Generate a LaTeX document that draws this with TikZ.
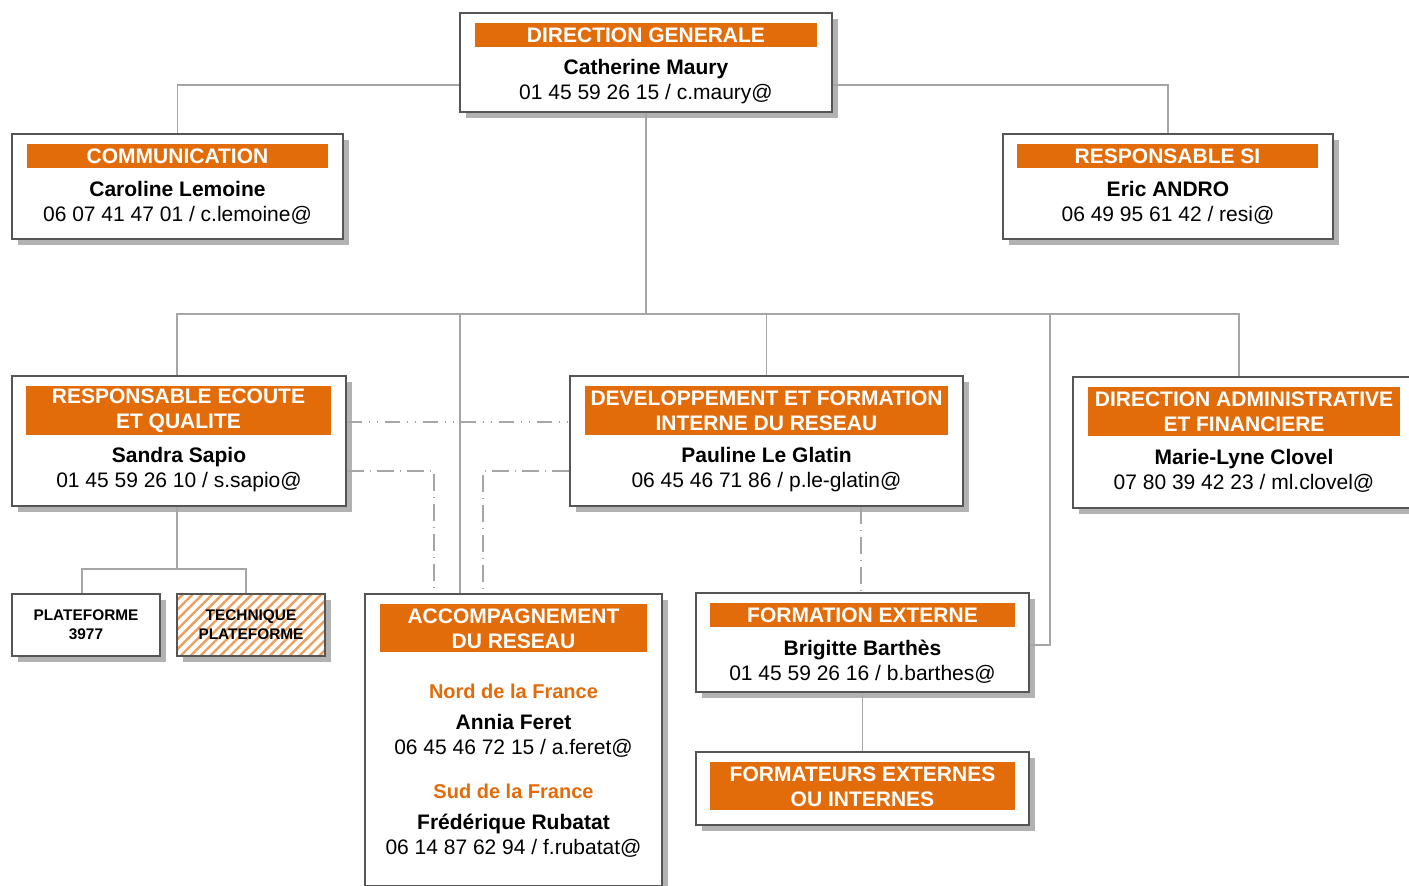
\documentclass[tikz,border=0pt]{standalone}
\usepackage{fontspec}
\setmainfont{Liberation Sans}
\usetikzlibrary{shadows,patterns.meta}

\definecolor{orgorange}{RGB}{227,108,10}
\definecolor{linegray}{RGB}{166,166,166}
\definecolor{boxgray}{RGB}{85,85,85}

\tikzstyle{box} = [draw=boxgray, line width=0.6pt, fill=white, inner sep=0pt,
    general shadow={fill=black!30, shadow xshift=3pt, shadow yshift=-3pt}]
\tikzstyle{smallbox} = [box, minimum width=74pt, minimum height=31pt, align=center,
    font=\fontsize{7.7}{9.5}\selectfont\bfseries]
\tikzstyle{head} = [fill=orgorange, text=white, font=\fontsize{10.5}{12.5}\selectfont\bfseries,
    inner sep=0pt, align=center]
\tikzstyle{info} = [align=center, inner sep=0pt]
\tikzstyle{region} = [text=orgorange, font=\bfseries, inner sep=0pt]
\tikzstyle{link} = [draw=linegray, line width=0.65pt]
\tikzstyle{dotlink} = [link, dash pattern=on 7.5pt off 3.5pt on 0.5pt off 3.5pt on 0.5pt off 3.5pt]
\tikzstyle{dashlink} = [link, dash pattern=on 8.5pt off 3pt on 0.5pt off 3pt]

\begin{document}
\begin{tikzpicture}[x=0.5pt, y=-0.5pt, font=\fontsize{10.5}{12.5}\selectfont]
\clip (0,0) rectangle (1409,886);

% direction generale
\node[box, minimum width=186pt, minimum height=49.5pt] (dg) at (646,62.5) {};
\node[head, minimum width=171pt, minimum height=12pt] (dgh) at (646,35.5) {DIRECTION GENERALE};
\node[info] (dgt) at (646,81.5) {\textbf{Catherine Maury}\\01 45 59 26 15 / c.maury@};

% communication
\node[box, minimum width=165.5pt, minimum height=52.5pt] (com) at (177.5,186.5) {};
\node[head, minimum width=150.5pt, minimum height=12pt] (comh) at (177.5,156.5) {COMMUNICATION};
\node[info] (comt) at (177.5,202.5) {\textbf{Caroline Lemoine}\\06 07 41 47 01 / c.lemoine@};

% responsable si
\node[box, minimum width=165pt, minimum height=52.5pt] (rsi) at (1168,186.5) {};
\node[head, minimum width=150.5pt, minimum height=12pt] (rsih) at (1167.5,156.5) {RESPONSABLE SI};
\node[info] (rsit) at (1168,202.5) {\textbf{Eric ANDRO}\\06 49 95 61 42 / resi@};

% ecoute et qualite
\node[box, minimum width=167pt, minimum height=65pt] (rec) at (179,441) {};
\node[head, minimum width=152.5pt, minimum height=24.5pt] (rech) at (178.5,411) {RESPONSABLE ECOUTE\\ET QUALITE};
\node[info] (rect) at (179,469.5) {\textbf{Sandra Sapio}\\01 45 59 26 10 / s.sapio@};

% developpement et formation
\node[box, minimum width=196.5pt, minimum height=65pt] (dev) at (766.5,441) {};
\node[head, minimum width=181.5pt, minimum height=24.5pt] (devh) at (766.5,411) {DEVELOPPEMENT ET FORMATION\\INTERNE DU RESEAU};
\node[info] (devt) at (766.5,469.5) {\textbf{Pauline Le Glatin}\\06 45 46 71 86 / p.le-glatin@};

% direction administrative
\node[box, minimum width=171pt, minimum height=65.5pt] (daf) at (1244,442.5) {};
\node[head, minimum width=156pt, minimum height=24.5pt] (dafh) at (1244,412) {DIRECTION ADMINISTRATIVE\\ET FINANCIERE};
\node[info] (daft) at (1244,470.5) {\textbf{Marie-Lyne Clovel}\\07 80 39 42 23 / ml.clovel@};

% plateformes
\node[smallbox] (p3977) at (86,625) {PLATEFORME\\3977};
\node[smallbox, postaction={pattern={Lines[angle=45,distance=3.5pt,line width=1.2pt]}, pattern color=orgorange!65},
    postaction={draw=boxgray, line width=0.6pt}] (tech) at (251,625) {TECHNIQUE\\PLATEFORME};

% accompagnement
\node[box, minimum width=148.5pt, minimum height=146pt] (acc) at (513.5,740) {};
\node[head, minimum width=133.5pt, minimum height=24pt] (acch) at (513.5,628.5) {ACCOMPAGNEMENT\\DU RESEAU};
\node[region] (nord) at (513.5,691) {Nord de la France};
\node[info] (nordt) at (513.5,735.5) {\textbf{Annia Feret}\\06 45 46 72 15 / a.feret@};
\node[region] (sud) at (513.5,791) {Sud de la France};
\node[info] (sudt) at (513.5,835.5) {\textbf{Frédérique Rubatat}\\06 14 87 62 94 / f.rubatat@};

% formation externe
\node[box, minimum width=166.5pt, minimum height=49.5pt] (fext) at (862.5,642.5) {};
\node[head, minimum width=152.5pt, minimum height=12pt] (fexth) at (862.5,615.5) {FORMATION EXTERNE};
\node[info] (fextt) at (862.5,661.5) {\textbf{Brigitte Barthès}\\01 45 59 26 16 / b.barthes@};

% formateurs
\node[box, minimum width=166.5pt, minimum height=36.5pt] (fint) at (862.5,788.5) {};
\node[head, minimum width=152.5pt, minimum height=24pt] (finth) at (862.5,786.5) {FORMATEURS EXTERNES\\OU INTERNES};

% connectors
\coordinate (bus) at (0,314);
\coordinate (accin) at (460,314);
\coordinate (fextin) at (1050,314);
\coordinate (platbus) at (0,569);

\draw[link] ([yshift=-11.25pt]dg.west) -| (com.north);
\draw[link] ([yshift=-11.25pt]dg.east) -| (rsi.north);
\draw[link] (dg.south) -- (dg.south |- bus);
\draw[link] ([xshift=-1pt]rec.north) -- ([xshift=-1pt]rec.north |- bus)
    -- ([xshift=-2.5pt]daf.north |- bus) -- ([xshift=-2.5pt]daf.north);
\draw[link] (dev.north) -- (dev.north |- bus);
\draw[link] (accin) -- (accin |- acc.north);
\draw[link] (fextin) |- ([yshift=-1.25pt]fext.east);
\draw[link] ([xshift=-1pt]rec.south) -- ([xshift=-1pt]rec.south |- platbus);
\draw[link] ([xshift=-2pt]p3977.north) |- ([xshift=-2.5pt]tech.north |- platbus)
    -- ([xshift=-2.5pt]tech.north);
\draw[link] (fext.south) -- (fint.north);

\draw[dotlink] ([yshift=9.5pt]rec.east) -- ([yshift=9.5pt]dev.west);
\draw[dashlink] ([yshift=-15pt]rec.east) -| ([xshift=-39.75pt]acc.north);
\draw[dashlink] ([yshift=-15pt]dev.west) -| ([xshift=-15.25pt]acc.north);
\draw[dashlink] ([xshift=-0.75pt]fext.north |- dev.south) -- ([xshift=-0.75pt]fext.north);
\end{tikzpicture}
\end{document}
